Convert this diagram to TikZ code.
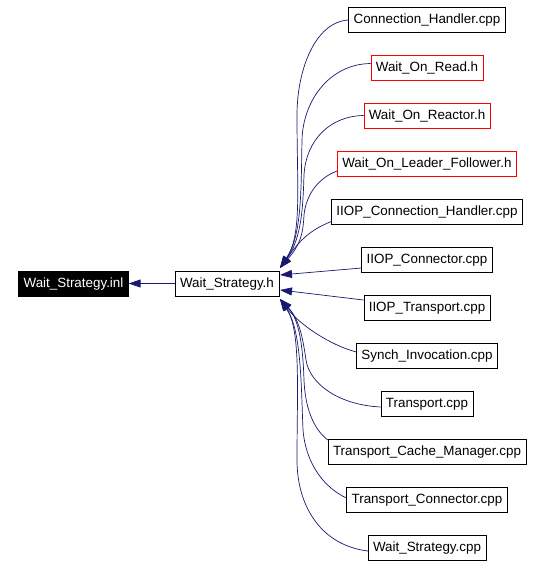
\documentclass[tikz,border=0pt]{standalone}
\usepackage{fontspec}
\setmainfont{Liberation Sans}
\usetikzlibrary{arrows.meta}
\definecolor{edgeblue}{RGB}{25,25,112}

\begin{document}
\begin{tikzpicture}[x=1pt,y=-1pt,
    file/.style={draw=black,fill=white,inner xsep=5pt,inner ysep=0pt,minimum height=25pt,
      font=\fontsize{13.4}{15}\selectfont,text height=9.5pt,text depth=2.5pt},
    redfile/.style={file,draw=red},
    mainfile/.style={file,fill=black,text=white},
    dep/.style={draw=edgeblue,line width=0.7pt,-{Triangle[length=12pt,width=8pt,fill=edgeblue]}}]
      \useasboundingbox (0,0) rectangle (544,566);
      \node[mainfile] (inl) at (73.5,283.5) {Wait\_Strategy.inl};
      \node[file] (h) at (227,283.5) {Wait\_Strategy.h};
      \node[file] (ch) at (427,20) {Connection\_Handler.cpp};
      \node[redfile] (wor) at (427,67.5) {Wait\_On\_Read.h};
      \node[redfile] (worc) at (427,115.5) {Wait\_On\_Reactor.h};
      \node[redfile] (wolf) at (427,164) {Wait\_On\_Leader\_Follower.h};
      \node[file] (iiopch) at (427,211.5) {IIOP\_Connection\_Handler.cpp};
      \node[file] (iiopc) at (427,260) {IIOP\_Connector.cpp};
      \node[file] (iiopt) at (427,308) {IIOP\_Transport.cpp};
      \node[file] (synch) at (427,356) {Synch\_Invocation.cpp};
      \node[file] (tr) at (427,404) {Transport.cpp};
      \node[file] (tcm) at (427,452) {Transport\_Cache\_Manager.cpp};
      \node[file] (tc) at (427,500) {Transport\_Connector.cpp};
      \node[file] (wsc) at (427,548) {Wait\_Strategy.cpp};
      \coordinate (hup) at (280,268);
      \coordinate (hdown) at (280,299);
      \draw[dep] (h) -- (inl);
      \draw[dep] (ch.west) .. controls (315,22) and (297,70) .. (297,115)
        .. controls (297,190) and (302,235) .. (hup);
      \draw[dep] ([yshift=4pt]wor.west) .. controls (330,64) and (303,100) .. (302,140)
        .. controls (301,190) and (302,235) .. (hup);
      \draw[dep] (worc.west) .. controls (330,116) and (306,140) .. (304,175)
        .. controls (303,205) and (302,238) .. (hup);
      \draw[dep] ([yshift=-7pt]wolf.west) .. controls (318,178) and (306,195) .. (304,215)
        .. controls (303,235) and (300,245) .. (hup);
      \draw[dep] ([yshift=-10pt]iiopch.west) .. controls (310,230) and (300,240) .. (hup);
      \draw[dep] ([yshift=-8pt]iiopc.west) -- (280,275);
      \draw[dep] ([yshift=8pt]iiopt.west) -- (280,290);
      \draw[dep] ([yshift=4pt]synch.west) .. controls (330,345) and (300,325) .. (hdown);
      \draw[dep] ([yshift=-3pt]tr.west) .. controls (340,405) and (310,385) .. (306,360)
        .. controls (303,340) and (300,320) .. (hdown);
      \draw[dep] ([yshift=12pt]tcm.west) .. controls (312,428) and (305,405) .. (304,380)
        .. controls (303,350) and (300,320) .. (hdown);
      \draw[dep] ([yshift=2pt]tc.west) .. controls (325,488) and (306,465) .. (303,430)
        .. controls (301,380) and (301,330) .. (hdown);
      \draw[dep] ([yshift=-3pt]wsc.west) .. controls (320,545) and (297,505) .. (297,460)
        .. controls (297,390) and (301,330) .. (hdown);
\end{tikzpicture}
\end{document}
